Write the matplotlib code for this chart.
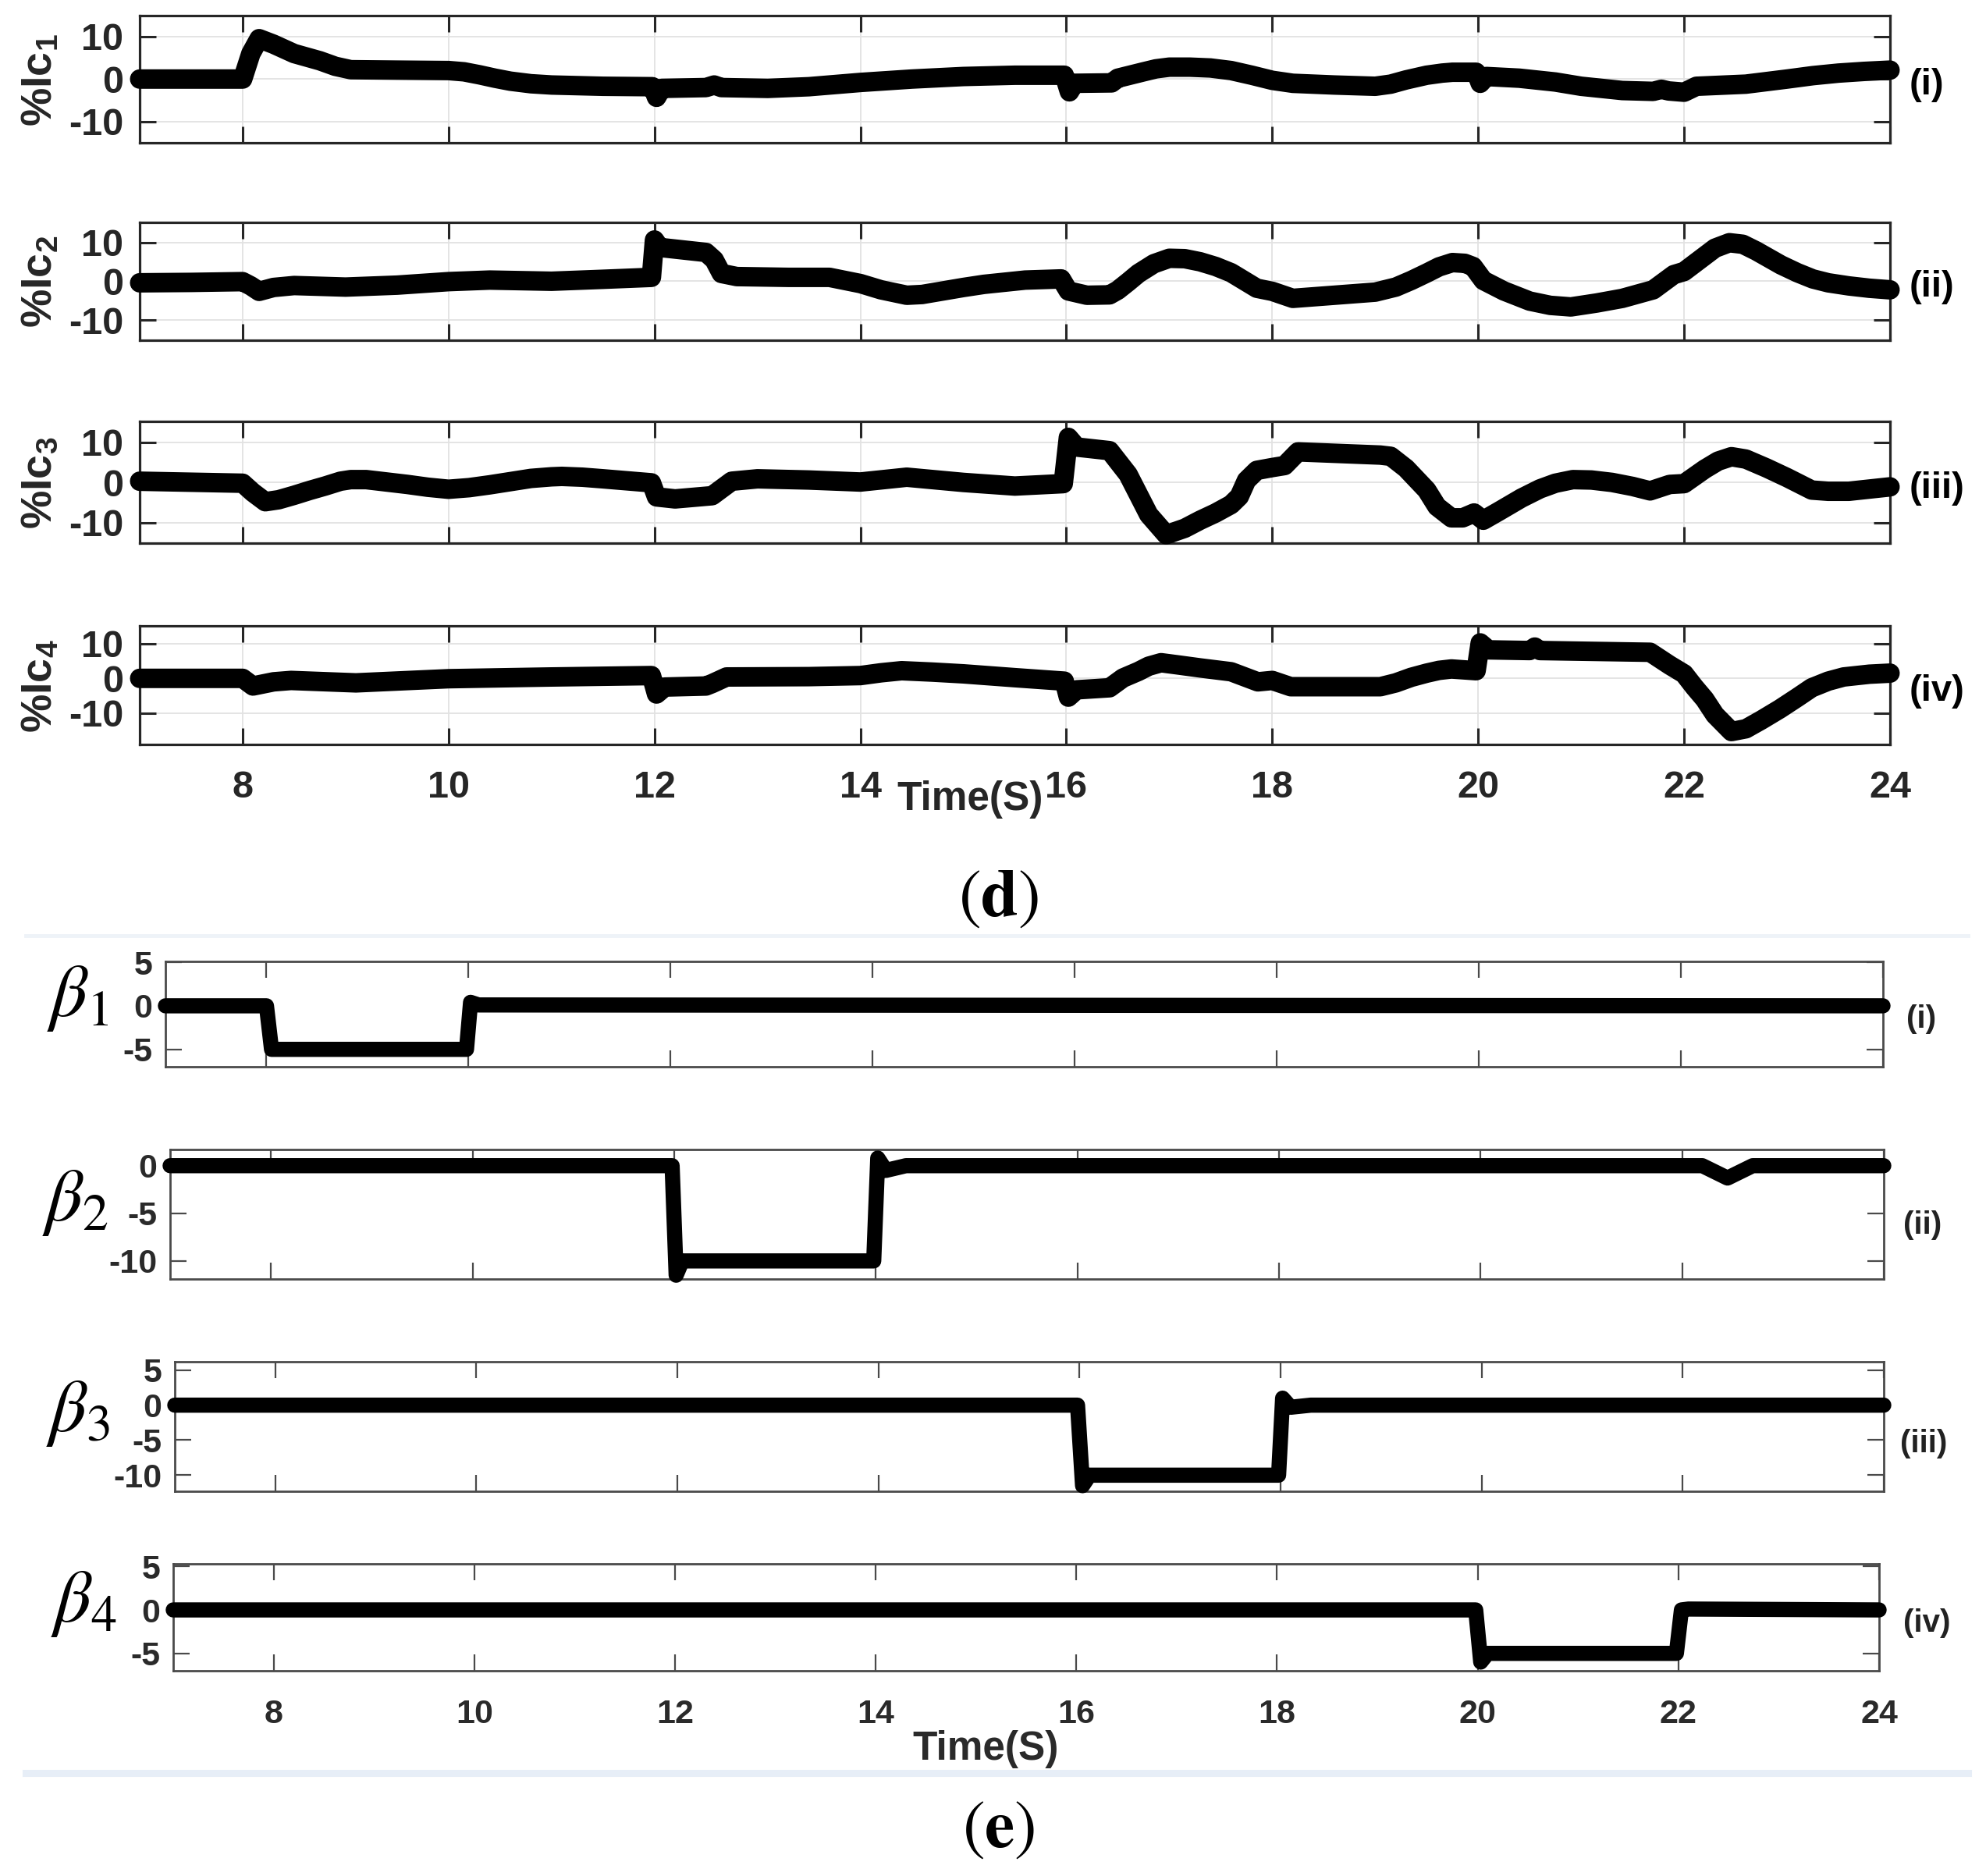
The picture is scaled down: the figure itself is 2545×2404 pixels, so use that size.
import matplotlib
matplotlib.use("Agg")
import matplotlib.pyplot as plt
from matplotlib.lines import Line2D

plt.rcParams['font.family'] = ['Liberation Sans', 'DejaVu Sans']
plt.rcParams['font.weight'] = 'normal'
plt.rcParams['axes.unicode_minus'] = False
plt.rcParams['mathtext.fontset'] = 'custom'
plt.rcParams['mathtext.rm'] = 'Liberation Sans:bold'
plt.rcParams['mathtext.bf'] = 'Liberation Sans:bold'
plt.rcParams['mathtext.it'] = 'Liberation Sans:bold'

# ---------------- data: panel (d) ----------------
t_ic1 = [7.0, 8.0, 8.08, 8.16, 8.3, 8.5, 8.75, 8.9, 9.05, 9.5, 10.0, 10.15, 10.3, 10.45, 10.6,
         10.8, 11.0, 11.5, 11.98, 12.02, 12.07, 12.5, 12.58, 12.65, 13.1, 13.5, 14.0, 14.5,
         15.0, 15.5, 15.98, 16.03, 16.08, 16.44, 16.5, 16.6, 16.75, 16.87, 17.0, 17.2, 17.4,
         17.6, 17.8, 18.0, 18.2, 18.6, 19.0, 19.15, 19.3, 19.5, 19.65, 19.75, 19.98, 20.02,
         20.08, 20.4, 20.75, 21.0, 21.4, 21.7, 21.78, 21.85, 22.0, 22.12, 22.6, 22.8, 23.0,
         23.25, 23.5, 23.75, 24.0]
v_ic1 = [0.0, 0.0, 6.0, 9.5, 8.2, 6.0, 4.3, 3.0, 2.2, 2.1, 2.0, 1.7, 1.0, 0.2, -0.5,
         -1.1, -1.4, -1.7, -1.8, -4.3, -2.2, -2.0, -1.4, -2.0, -2.2, -1.8, -0.8, 0.0,
         0.6, 0.9, 0.9, -3.0, -1.0, -0.9, 0.2, 0.8, 1.7, 2.4, 2.8, 2.8, 2.6,
         2.0, 0.9, -0.3, -1.0, -1.4, -1.7, -1.2, -0.2, 0.9, 1.4, 1.6, 1.6, -1.0,
         0.6, 0.2, -0.7, -1.7, -2.7, -2.9, -2.4, -2.8, -3.1, -1.7, -1.2, -0.6, 0.0,
         0.8, 1.4, 1.8, 2.1]

t_ic2 = [7.0, 7.5, 8.0, 8.08, 8.16, 8.3, 8.5, 9.0, 9.5, 10.0, 10.4, 11.0, 11.5, 11.97,
         12.0, 12.05, 12.5, 12.58, 12.65, 12.8, 13.3, 13.7, 14.0, 14.2, 14.45, 14.6, 14.8,
         15.0, 15.2, 15.6, 15.95, 16.02, 16.2, 16.42, 16.5, 16.6, 16.7, 16.85, 17.0, 17.15,
         17.3, 17.45, 17.6, 17.75, 17.85, 18.0, 18.2, 19.0, 19.2, 19.35, 19.5, 19.62, 19.75,
         19.87, 19.95, 20.05, 20.25, 20.5, 20.7, 20.9, 21.15, 21.4, 21.7, 21.9, 22.0, 22.1,
         22.2, 22.3, 22.44, 22.57, 22.7, 22.82, 22.94, 23.1, 23.25, 23.4, 23.6, 23.8, 24.0]
v_ic2 = [-0.4, -0.3, -0.1, -1.2, -2.6, -1.6, -1.1, -1.5, -1.0, -0.1, 0.3, 0.0, 0.5, 1.0,
         10.6, 8.7, 7.4, 5.5, 2.0, 1.2, 1.0, 1.0, -0.6, -2.2, -3.6, -3.4, -2.5,
         -1.6, -0.8, 0.3, 0.6, -2.5, -3.6, -3.5, -2.3, -0.2, 2.0, 4.5, 5.9, 5.8,
         5.0, 3.8, 2.2, -0.2, -1.8, -2.6, -4.4, -2.8, -1.5, 0.2, 2.1, 3.7, 4.8,
         4.6, 3.8, 0.2, -2.5, -5.1, -6.2, -6.6, -5.6, -4.4, -2.2, 1.7, 2.5, 4.5,
         6.5, 8.5, 9.9, 9.5, 7.8, 6.0, 4.2, 2.2, 0.6, -0.4, -1.2, -1.8, -2.2]

t_ic3 = [7.0, 8.0, 8.1, 8.22, 8.35, 8.5, 8.65, 8.8, 8.95, 9.05, 9.2, 9.4, 9.6, 9.8, 10.0,
         10.2, 10.4, 10.6, 10.8, 11.0, 11.1, 11.3, 11.5, 11.97, 12.02, 12.2, 12.56, 12.75,
         13.0, 13.5, 14.0, 14.45, 15.0, 15.5, 15.97, 16.02, 16.1, 16.42, 16.6, 16.8, 16.97,
         17.15, 17.3, 17.45, 17.6, 17.68, 17.75, 17.85, 18.0, 18.12, 18.25, 19.05, 19.15,
         19.3, 19.5, 19.6, 19.74, 19.85, 19.96, 20.05, 20.2, 20.42, 20.6, 20.75, 20.92, 21.1,
         21.3, 21.5, 21.67, 21.86, 22.0, 22.1, 22.2, 22.33, 22.46, 22.6, 22.8, 23.0, 23.24,
         23.4, 23.6, 24.0]
v_ic3 = [0.3, -0.2, -2.5, -4.8, -4.3, -3.2, -2.0, -0.9, 0.3, 0.7, 0.7, 0.1, -0.5, -1.2, -1.7,
         -1.3, -0.6, 0.2, 1.0, 1.4, 1.5, 1.3, 0.9, -0.1, -3.6, -4.1, -3.3, 0.3,
         0.9, 0.6, 0.1, 1.3, 0.0, -0.9, -0.3, 11.2, 8.8, 7.9, 2.0, -8.0, -13.0,
         -11.4, -9.4, -7.6, -5.5, -3.5, 0.5, 3.0, 3.7, 4.2, 7.6, 6.8, 6.5,
         3.5, -1.9, -6.0, -8.8, -8.8, -7.6, -9.4, -7.2, -3.9, -1.6, -0.2, 0.7, 0.6,
         0.0, -1.0, -2.1, -0.5, -0.3, 1.5, 3.3, 5.3, 6.4, 5.8, 3.6, 1.2, -1.9,
         -2.2, -2.2, -1.1]

t_ic4 = [7.0, 8.0, 8.1, 8.3, 8.47, 9.1, 10.0, 11.0, 11.97, 12.02, 12.1, 12.5, 12.56, 12.7,
         13.5, 14.0, 14.2, 14.4, 14.7, 15.0, 15.5, 15.98, 16.02, 16.1, 16.42, 16.55, 16.7,
         16.8, 16.92, 17.1, 17.3, 17.6, 17.86, 18.0, 18.18, 19.05, 19.2, 19.35, 19.5, 19.62,
         19.74, 19.98, 20.02, 20.1, 20.5, 20.55, 20.6, 21.67, 21.86, 22.0, 22.1, 22.2, 22.3,
         22.46, 22.6, 22.75, 22.93, 23.1, 23.24, 23.4, 23.55, 23.8, 24.0]
v_ic4 = [0.0, 0.0, -2.2, -1.0, -0.6, -1.3, -0.1, 0.4, 0.8, -4.5, -2.5, -2.2, -1.5, 0.4,
         0.5, 0.8, 1.6, 2.2, 1.8, 1.3, 0.2, -0.8, -5.4, -3.3, -2.7, 0.1, 2.0,
         3.5, 4.5, 3.8, 3.0, 1.9, -1.0, -0.6, -2.4, -2.4, -1.3, 0.3, 1.5, 2.3,
         2.7, 2.2, 10.2, 8.2, 8.0, 9.0, 8.0, 7.5, 3.8, 1.3, -2.5, -6.0, -10.5,
         -15.3, -14.5, -12.0, -8.8, -5.5, -2.7, -0.8, 0.4, 1.2, 1.5]

# ---------------- data: panel (e) ----------------
t_b1 = [7.0, 8.0, 8.05, 9.98, 10.02, 10.1, 24.0]
v_b1 = [0.0, 0.0, -5.0, -5.0, 0.4, 0.1, 0.0]
t_b2 = [7.0, 11.98, 12.02, 12.08, 13.98, 14.02, 14.1, 14.3, 22.2, 22.45, 22.7, 24.0]
v_b2 = [0.0, 0.0, -11.5, -10.0, -10.0, 0.8, -0.5, 0.0, 0.0, -1.3, 0.0, 0.0]
t_b3 = [7.0, 15.98, 16.03, 16.1, 17.98, 18.02, 18.1, 18.3, 24.0]
v_b3 = [0.0, 0.0, -11.5, -10.0, -10.0, 1.0, -0.3, 0.0, 0.0]
t_b4 = [7.0, 19.98, 20.03, 20.1, 21.98, 22.03, 22.1, 24.0]
v_b4 = [0.0, 0.0, -6.0, -5.0, -5.0, 0.0, 0.1, 0.0]

x_ticks = [8, 10, 12, 14, 16, 18, 20, 22, 24]
ic_labels = [r'$\mathbf{\%Ic_1}$', r'$\mathbf{\%Ic_2}$', r'$\mathbf{\%Ic_3}$', r'$\mathbf{\%Ic_4}$']
beta_labels = [r'$\beta_1$', r'$\beta_2$', r'$\beta_3$', r'$\beta_4$']
roman = ['(i)', '(ii)', '(iii)', '(iv)']
ic_yticks = [-10, 0, 10]
ic_ylims = [(-15, 15), (-15.1, 15.2), (-15, 15.1), (-18.9, 15.1)]
beta_yticks = [[-5, 0, 5], [-10, -5, 0], [-10, -5, 0, 5], [-5, 0, 5]]
beta_ylims = [(-7.0, 5.1), (-11.9, 1.7), (-12.3, 6.2), (-7.0, 5.3)]

W, H = 2545, 2404
fig = plt.figure(figsize=(W / 100, H / 100), dpi=100)

def box(l, t, r, b):
    return [l / W, 1 - b / H, (r - l) / W, (b - t) / H]

d_boxes = [(179, 19.6, 2422, 183), (179, 284.6, 2422, 435.7),
           (179, 540.4, 2422, 695.5), (179, 802, 2422, 953.5)]
e_boxes = [(212, 1232, 2413, 1367), (218, 1473, 2414, 1639),
           (224, 1745, 2414, 1911), (222, 2004, 2408, 2141)]

ic_data = [(t_ic1, v_ic1), (t_ic2, v_ic2), (t_ic3, v_ic3), (t_ic4, v_ic4)]
beta_data = [(t_b1, v_b1), (t_b2, v_b2), (t_b3, v_b3), (t_b4, v_b4)]

dark = '#262626'
for i, (bx, (tt, vv)) in enumerate(zip(d_boxes, ic_data)):
    ax = fig.add_axes(box(*bx))
    ax.plot(tt, vv, color='black', lw=18, solid_capstyle='round',
            solid_joinstyle='round', clip_on=False, zorder=3)
    ax.set_xlim(7, 24)
    ax.set_ylim(*ic_ylims[i])
    ax.set_xticks(x_ticks)
    ax.set_yticks(ic_yticks)
    ax.grid(True, color='#e2e2e2', lw=1.3)
    ax.set_axisbelow(True)
    for s in ax.spines.values():
        s.set_color(dark)
        s.set_linewidth(2.3)
    ax.tick_params(direction='in', length=15, width=2.2, color=dark,
                   top=True, right=True, labelsize=35, labelcolor=dark, pad=15)
    ax.tick_params(axis='x', pad=24)
    for lab in ax.get_xticklabels() + ax.get_yticklabels():
        lab.set_fontweight('bold')
    if i < 3:
        ax.set_xticklabels([])
    cy = (bx[1] + bx[3]) / 2
    fig.text(52 / W, 1 - (cy + 1) / H, ic_labels[i], rotation=90, ha='center',
             va='center', fontsize=40, color=dark)
    fig.text(2447 / W, 1 - (cy + 8) / H, roman[i], ha='left', va='center',
             fontsize=34, fontweight='bold', color='black')

fig.text(1243 / W, 1 - 1024 / H, 'Time(S)', ha='center', va='center',
         fontsize=37, fontweight='bold', color=dark)
fig.text(1280 / W, 1 - 1152 / H, r'$(\mathbf{d})$', ha='center', va='center',
         fontsize=62, math_fontfamily='stix', color='black')

gray = '#4a4a4a'
beta_centers = [(100, 1280), (96, 1541), (100, 1811), (107, 2055)]
roman_e = [(2443, 1306), (2439, 1570), (2435, 1850), (2439, 2080)]
for i, (bx, (tt, vv)) in enumerate(zip(e_boxes, beta_data)):
    ax = fig.add_axes(box(*bx))
    ax.plot(tt, vv, color='black', lw=14, solid_capstyle='round',
            solid_joinstyle='round', clip_on=False, zorder=3)
    ax.set_xlim(7, 24)
    ax.set_ylim(*beta_ylims[i])
    ax.set_xticks(x_ticks)
    ax.set_yticks(beta_yticks[i])
    for s in ax.spines.values():
        s.set_color(gray)
        s.set_linewidth(2.0)
    ax.tick_params(direction='in', length=15, width=1.6, color=gray,
                   top=True, right=True, labelsize=31, labelcolor='#2a2a2a', pad=12)
    ax.tick_params(axis='x', pad=26)
    for lab in ax.get_xticklabels() + ax.get_yticklabels():
        lab.set_fontweight('bold')
    if i < 3:
        ax.set_xticklabels([])
    fig.text(beta_centers[i][0] / W, 1 - beta_centers[i][1] / H, beta_labels[i],
             ha='center', va='center', fontsize=68,
             math_fontfamily='stix', color='black')
    fig.text(roman_e[i][0] / W, 1 - roman_e[i][1] / H, roman[i], ha='left', va='center',
             fontsize=29, fontweight='bold', color='#222222')

fig.text(1263 / W, 1 - 2242 / H, 'Time(S)', ha='center', va='center',
         fontsize=37, fontweight='bold', color='#2a2a2a')
fig.text(1280 / W, 1 - 2345 / H, r'$(\mathbf{e})$', ha='center', va='center',
         fontsize=62, math_fontfamily='stix', color='black')

# separator lines
fig.add_artist(Line2D([33 / W, 2522 / W], [1 - 1199 / H, 1 - 1199 / H],
                      color='#eef3f8', lw=3.5))
fig.add_artist(Line2D([33 / W, 2522 / W], [1 - 2272 / H, 1 - 2272 / H],
                      color='#e7eef7', lw=6.5))

fig.savefig('out.png', dpi=100, facecolor='white')
